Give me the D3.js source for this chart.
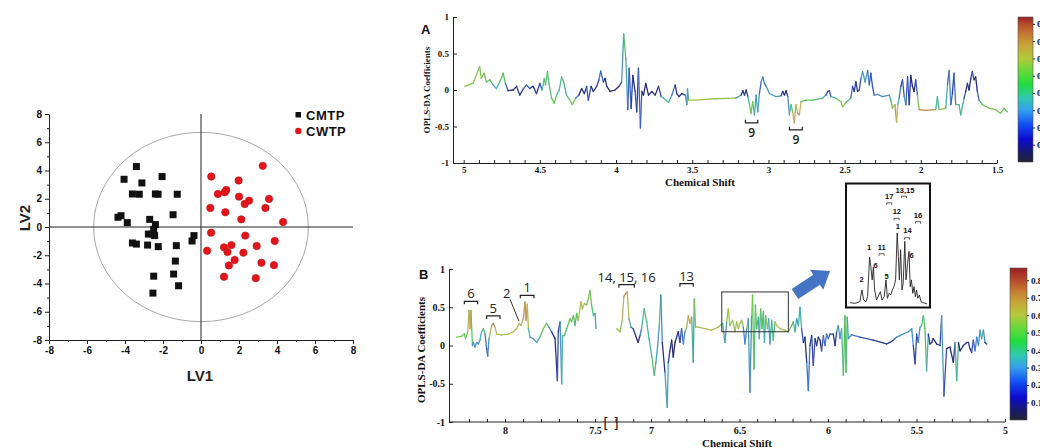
<!DOCTYPE html>
<html>
<head>
<meta charset="utf-8">
<script src="https://cdn.jsdelivr.net/npm/d3@7"></script>
<style>
  body { margin: 0; background: #fff; }
  svg { display: block; }
</style>
</head>
<body>
<div id="fig"></div>
<script>
// ---- score plot (LV1 / LV2) ----
var groups = ["CMTP", "CWTP"];
var cmtpLV1 = [-3.40,-4.05,-3.11,-2.05,-3.61,-3.25,-2.40,-2.26,-1.25,-4.37,-4.21,-3.88,-2.70,-1.47,-2.40,-2.49,-2.77,-2.53,-2.44,-0.37,-0.47,-3.61,-3.40,-2.81,-2.25,-1.30,-1.35,-1.44,-2.49,-1.18,-2.53];
var cmtpLV2 = [4.28,3.38,3.12,3.57,2.34,2.32,2.34,2.32,2.32,0.69,0.80,0.31,0.54,0.87,0.17,-0.17,-0.50,-0.50,-0.61,-0.61,-0.99,-1.13,-1.21,-1.28,-1.39,-1.32,-2.41,-3.33,-3.48,-4.16,-4.68];
var cwtpLV1 = [0.54,3.25,1.98,1.33,1.25,0.89,2.00,2.53,2.30,3.58,0.49,3.39,1.28,2.12,4.32,0.53,2.33,3.88,0.32,1.60,1.21,1.39,2.93,2.23,1.77,1.47,3.18,3.84,1.21,2.88];
var cwtpLV2 = [3.57,4.33,3.29,2.62,2.46,2.34,2.15,1.87,1.63,1.99,1.35,1.35,1.04,0.54,0.35,-0.40,-0.61,-0.99,-1.68,-1.28,-1.44,-1.77,-1.35,-1.82,-2.34,-2.72,-2.53,-2.70,-3.52,-3.62];
var scoreTicks = [-8,-6,-4,-2,0,2,4,6,8];
var ellipseRadii = [5.65, 6.7];   // confidence ellipse, LV1 / LV2 units

// ---- OPLS-DA coefficient spectra: [ppm, coefficient, |r|] ----
var specA = [
[4.993,0.05,0.55],[4.939,0.09,0.55],[4.895,0.32,0.55],[4.884,0.16,0.55],[4.866,0.23,0.55],[4.851,0.11,0.5],[4.829,0.14,0.5],[4.807,0.07,0.45],[4.785,0.02,0.3],[4.763,0.11,0.5],[4.741,0.23,0.55],[4.726,0.09,0.4],[4.708,-0.01,0.1],[4.675,0.0,0.1],[4.653,0.05,0.15],[4.632,-0.07,0.1],[4.610,0.01,0.2],[4.588,0.07,0.3],[4.566,0.02,0.2],[4.544,0.05,0.15],[4.522,-0.05,0.1],[4.500,0.09,0.2],[4.485,0.0,0.3],[4.471,0.16,0.5],[4.463,0.07,0.45],[4.450,0.25,0.5],[4.439,0.07,0.45],[4.423,-0.11,0.5],[4.406,-0.18,0.55],[4.390,-0.07,0.45],[4.373,0.0,0.4],[4.357,0.18,0.5],[4.344,0.11,0.45],[4.325,-0.07,0.4],[4.303,-0.14,0.5],[4.287,-0.20,0.6],[4.265,-0.11,0.45],[4.243,-0.07,0.1],[4.226,0.02,0.15],[4.208,-0.05,0.1],[4.193,0.05,0.15],[4.182,-0.14,0.3],[4.164,0.05,0.15],[4.149,-0.02,0.1],[4.127,0.05,0.15],[4.112,0.14,0.25],[4.101,0.26,0.3],[4.083,0.11,0.2],[4.072,0.16,0.15],[4.061,0.05,0.1],[4.039,-0.02,0.1],[4.007,0.0,0.1],[3.980,0.05,0.15],[3.963,0.11,0.2],[3.950,0.77,0.5],[3.936,0.43,0.45],[3.923,-0.27,0.3],[3.914,0.30,0.2],[3.901,-0.25,0.3],[3.890,0.20,0.1],[3.875,-0.02,0.15],[3.864,-0.30,0.3],[3.853,0.30,0.1],[3.840,-0.52,0.4],[3.831,-0.02,0.1],[3.820,-0.07,0.1],[3.805,0.09,0.1],[3.787,-0.07,0.1],[3.765,-0.02,0.1],[3.743,-0.07,0.15],[3.721,0.05,0.1],[3.704,-0.09,0.3],[3.689,-0.11,0.4],[3.656,-0.17,0.45],[3.634,-0.07,0.35],[3.612,0.07,0.2],[3.601,-0.05,0.1],[3.586,-0.09,0.15],[3.568,-0.05,0.1],[3.546,-0.07,0.2],[3.535,-0.20,0.45],[3.531,0.02,0.2],[3.524,-0.14,0.55],[3.480,-0.14,0.6],[3.349,-0.12,0.58],[3.217,-0.11,0.55],
[3.212,-0.11,0.5],[3.179,-0.07,0.2],[3.168,-0.01,0.1],[3.157,-0.07,0.15],[3.146,0.0,0.1],[3.135,-0.09,0.3],[3.124,-0.20,0.5],[3.114,-0.32,0.55],[3.103,-0.16,0.5],[3.092,-0.34,0.55],[3.081,-0.07,0.2],[3.070,-0.30,0.55],[3.059,-0.05,0.2],[3.048,0.11,0.3],[3.037,0.18,0.35],[3.026,0.09,0.2],[3.015,0.05,0.3],[2.993,-0.05,0.35],[2.950,-0.09,0.4],[2.917,-0.08,0.3],[2.906,-0.02,0.1],[2.895,-0.07,0.15],[2.884,-0.01,0.1],[2.873,-0.09,0.2],[2.862,-0.34,0.45],[2.852,-0.20,0.4],[2.841,-0.30,0.6],[2.830,-0.45,0.72],[2.819,-0.20,0.6],[2.808,-0.32,0.65],[2.797,-0.34,0.78],[2.786,-0.16,0.5],[2.753,-0.14,0.5],[2.710,-0.14,0.5],[2.644,-0.11,0.45],[2.622,-0.07,0.3],[2.611,-0.02,0.15],[2.600,-0.01,0.15],[2.590,-0.09,0.3],[2.557,-0.11,0.5],[2.524,-0.16,0.55],[2.513,-0.23,0.6],[2.491,-0.17,0.55],[2.459,-0.11,0.4],[2.448,0.05,0.15],[2.437,-0.02,0.2],[2.426,0.11,0.15],[2.415,-0.02,0.2],[2.404,0.0,0.15],[2.393,0.16,0.3],[2.382,0.25,0.4],[2.365,0.11,0.3],[2.349,0.27,0.35],[2.338,0.07,0.2],[2.328,0.23,0.3],[2.317,0.05,0.15],[2.306,-0.07,0.3],[2.284,-0.06,0.3],[2.251,-0.09,0.3],[2.207,-0.07,0.3],[2.197,-0.14,0.45],[2.186,-0.25,0.55],[2.170,-0.20,0.6],[2.159,-0.44,0.78],[2.151,-0.20,0.5],[2.142,-0.11,0.35],[2.131,0.05,0.2],[2.120,0.14,0.15],[2.109,-0.09,0.3],[2.098,-0.20,0.4],[2.087,0.18,0.1],[2.076,-0.20,0.35],[2.066,0.20,0.05],[2.055,0.05,0.1],[2.044,-0.02,0.1],[2.033,0.14,0.1],[2.022,-0.07,0.4],[2.011,-0.27,0.7],[1.967,-0.28,0.72],[1.902,-0.27,0.7],[1.891,-0.09,0.2],[1.880,-0.27,0.6],[1.836,-0.25,0.6],[1.825,0.07,0.2],[1.814,0.27,0.3],[1.803,-0.20,0.3],[1.793,-0.05,0.2],[1.782,0.23,0.15],[1.771,-0.20,0.4],[1.749,-0.20,0.45],[1.738,-0.34,0.5],[1.716,-0.11,0.3],[1.705,-0.02,0.15],[1.694,0.09,0.1],[1.683,0.0,0.15],[1.672,0.16,0.1],[1.662,0.25,0.3],[1.651,0.14,0.15],[1.640,0.18,0.1],[1.629,-0.02,0.1],[1.618,-0.14,0.4],[1.596,-0.20,0.5],[1.552,-0.25,0.55],[1.509,-0.27,0.55],[1.476,-0.32,0.55],[1.454,-0.25,0.5],[1.432,-0.30,0.5]
];
var specBLeft = [
[8.269,0.11,0.5],[8.241,0.12,0.55],[8.226,0.15,0.55],[8.219,0.09,0.45],[8.207,0.18,0.6],[8.200,0.46,0.68],[8.194,0.22,0.65],[8.189,0.46,0.68],[8.181,0.0,0.35],[8.176,0.04,0.3],[8.167,-0.02,0.35],[8.157,0.04,0.3],[8.148,0.02,0.3],[8.139,0.07,0.35],[8.130,0.18,0.45],[8.120,0.22,0.5],[8.111,0.15,0.35],[8.102,-0.04,0.2],[8.096,-0.14,0.15],[8.089,0.09,0.5],[8.081,0.18,0.6],[8.074,0.26,0.72],[8.065,0.29,0.72],[8.056,0.24,0.68],[8.046,0.15,0.6],[8.019,0.14,0.58],[7.981,0.15,0.6],[7.954,0.18,0.6],[7.935,0.22,0.62],[7.922,0.29,0.65],[7.911,0.26,0.65],[7.898,0.35,0.68],[7.889,0.57,0.7],[7.883,0.33,0.68],[7.876,0.54,0.7],[7.870,0.22,0.5],[7.861,0.11,0.35],[7.843,0.09,0.35],[7.824,0.04,0.3],[7.806,0.11,0.45],[7.787,0.22,0.55],[7.769,0.29,0.55],[7.756,0.24,0.4],[7.741,0.18,0.2],[7.722,0.09,0.05],[7.709,-0.46,0.25],[7.704,0.18,0.2],[7.694,0.31,0.15],[7.685,-0.50,0.5],[7.680,0.13,0.35],[7.670,0.13,0.45],[7.657,0.22,0.5],[7.639,0.35,0.5],[7.630,0.31,0.55],[7.620,0.39,0.5],[7.611,0.26,0.4],[7.602,0.42,0.55],[7.593,0.33,0.5],[7.578,0.57,0.7],[7.570,0.48,0.6],[7.559,0.55,0.6],[7.546,0.53,0.5],[7.537,0.61,0.55],[7.528,0.72,0.55],[7.519,0.53,0.5],[7.509,0.39,0.45],[7.500,0.42,0.4],[7.494,0.22,0.3]
];
var specBRight = [
[7.194,0.22,0.58],[7.175,0.18,0.55],[7.162,0.33,0.55],[7.153,0.64,0.72],[7.143,0.68,0.72],[7.134,0.70,0.7],[7.124,0.35,0.5],[7.113,0.24,0.35],[7.100,0.22,0.2],[7.087,0.13,0.15],[7.072,0.04,0.05],[7.062,0.13,0.2],[7.053,0.22,0.35],[7.038,0.48,0.5],[7.024,0.31,0.45],[7.011,0.09,0.4],[6.996,-0.13,0.45],[6.981,-0.39,0.5],[6.972,-0.22,0.4],[6.962,0.0,0.3],[6.953,0.26,0.4],[6.944,0.66,0.5],[6.936,0.04,0.1],[6.921,-0.35,0.15],[6.908,-0.81,0.55],[6.902,-0.22,0.2],[6.893,-0.07,0.15],[6.883,0.07,0.1],[6.874,-0.15,0.05],[6.864,0.04,0.1],[6.855,0.11,0.15],[6.846,0.18,0.2],[6.836,0.04,0.15],[6.827,0.22,0.3],[6.817,0.02,0.2],[6.808,0.18,0.4],[6.798,0.24,0.55],[6.789,0.39,0.7],[6.780,0.29,0.65],[6.770,0.37,0.65],[6.761,-0.22,0.2],[6.755,0.61,0.5],[6.748,0.24,0.55],[6.733,0.24,0.6],[6.695,0.22,0.62],[6.657,0.20,0.6],[6.620,0.24,0.58],
[6.610,0.26,0.6],[6.595,0.29,0.55],[6.582,0.04,0.2],[6.572,0.31,0.5],[6.563,0.48,0.62],[6.554,0.26,0.55],[6.539,0.33,0.6],[6.525,0.18,0.55],[6.516,0.31,0.6],[6.506,0.22,0.55],[6.497,0.29,0.62],[6.488,0.33,0.6],[6.478,0.24,0.5],[6.469,0.02,0.1],[6.459,0.22,0.5],[6.450,0.35,0.6],[6.441,-0.61,0.1],[6.431,0.39,0.55],[6.426,0.66,0.68],[6.418,-0.31,0.35],[6.410,0.53,0.6],[6.403,0.22,0.4],[6.393,0.37,0.55],[6.388,0.09,0.2],[6.380,0.48,0.65],[6.373,0.22,0.4],[6.365,0.44,0.6],[6.359,0.04,0.2],[6.352,0.39,0.6],[6.342,0.22,0.5],[6.335,0.35,0.6],[6.328,0.02,0.15],[6.318,0.33,0.6],[6.309,0.07,0.3],[6.299,0.31,0.62],[6.290,0.26,0.62],[6.271,0.22,0.62],[6.243,0.20,0.6],[6.224,0.18,0.55],[6.205,0.26,0.5],[6.196,0.31,0.45],[6.186,0.18,0.35],[6.177,0.35,0.4],[6.167,0.26,0.3],[6.158,0.50,0.5],[6.149,0.22,0.3],[6.139,0.04,0.15],[6.130,0.11,0.1],[6.120,-0.22,0.15],[6.111,-0.59,0.4],[6.102,0.0,0.15],[6.092,0.13,0.1],[6.083,-0.26,0.3],[6.073,0.09,0.15],[6.064,0.0,0.1],[6.055,0.11,0.2],[6.045,0.07,0.15],[6.036,-0.07,0.1],[6.026,0.13,0.35],[6.017,0.0,0.2],[6.008,0.15,0.35],[5.998,0.09,0.2],[5.989,0.15,0.3],[5.970,0.15,0.15],[5.960,0.0,0.1],[5.951,0.18,0.3],[5.942,0.26,0.4],[5.932,0.09,0.3],[5.923,0.22,0.4],[5.913,-0.39,0.5],[5.904,0.39,0.5],[5.898,-0.35,0.5],[5.891,0.37,0.45],[5.885,0.09,0.3],[5.866,0.14,0.3],[5.819,0.11,0.25],[5.744,0.07,0.2],[5.669,0.02,0.1],[5.650,0.04,0.15],[5.631,0.07,0.2],[5.612,0.11,0.3],[5.593,0.13,0.35],[5.574,0.15,0.3],[5.546,0.18,0.35],[5.527,0.22,0.4],[5.518,0.0,0.2],[5.508,-0.24,0.15],[5.499,0.15,0.3],[5.490,0.04,0.2],[5.480,0.24,0.4],[5.471,0.26,0.45],[5.461,0.39,0.5],[5.452,0.22,0.45],[5.443,-0.33,0.5],[5.433,0.15,0.3],[5.424,0.02,0.1],[5.414,0.04,0.1],[5.405,0.09,0.15],[5.386,0.02,0.05],[5.367,0.0,0.1],[5.358,0.39,0.35],[5.345,-0.66,0.35],[5.330,-0.04,0.1],[5.311,-0.02,0.05],[5.292,-0.22,0.2],[5.282,0.04,0.1],[5.273,-0.46,0.75],[5.263,0.04,0.1],[5.254,-0.07,0.05],[5.235,0.0,0.1],[5.216,0.04,0.1],[5.207,0.04,0.2],[5.198,-0.04,0.1],[5.188,-0.09,0.15],[5.179,0.07,0.3],[5.169,-0.07,0.2],[5.160,0.11,0.4],[5.150,0.0,0.2],[5.141,0.20,0.45],[5.132,0.09,0.3],[5.122,0.20,0.45],[5.113,0.04,0.2],[5.103,0.02,0.1]
];
// zoomed 1D spectrum in the inset: [ppm, relative intensity]
var insetSpec = [
[6.589,2],[6.565,1],[6.541,3.5],[6.530,21],[6.522,6],[6.510,3.5],[6.502,11],[6.492,70],[6.486,56],[6.479,36],[6.473,55],[6.467,21],[6.457,6],[6.446,13.5],[6.438,18.5],[6.430,6],[6.419,11],[6.410,36],[6.403,8.5],[6.394,16],[6.386,13.5],[6.378,21],[6.370,26],[6.362,36],[6.354,106],[6.348,71],[6.343,36],[6.337,81],[6.330,21],[6.324,31],[6.316,93.5],[6.310,36],[6.302,61],[6.295,78.5],[6.289,26],[6.283,36],[6.276,16],[6.270,26],[6.263,11],[6.257,21],[6.251,8.5],[6.243,13.5],[6.235,3.5],[6.224,2],[6.205,0]
];
var insetLabels = [["13,15",6.315,169],["17",6.394,161],["12",6.356,138],["16",6.25,133],["1",6.351,116],["14",6.303,110],["1",6.495,84],["11",6.432,84],["6",6.282,73],["6",6.462,57],["2",6.532,37],["5",6.407,41]];
var insetBrackets = [[6.394,151],[6.32,161],[6.357,128],[6.25,123],[6.305,99],[6.432,75]];

var shiftTicksA = [5,4.5,4,3.5,3,2.5,2,1.5];
var shiftTicksBLeft = [8,7.5];
var shiftTicksBRight = [7,6.5,6,5.5,5];
var coefTicks = [1,0.5,0,-0.5,-1];
var cbarTicks = [0.1,0.2,0.3,0.4,0.5,0.6,0.7,0.8];

// metabolite markers: label, ppm from, ppm to, coefficient of bracket line
var markA = [["9",3.151,3.070,-0.45],["9",2.862,2.778,-0.545]];
var markB = [["6",8.226,8.152,0.578],["5",8.102,8.028,0.386],["1",7.915,7.839,0.656],["14, 15, 16",7.181,7.094,0.795],["13",6.836,6.761,0.808]];

// colour map of |r| (bar) and the softer version the thin lines show
var cmapStops = [0,0.05,0.13,0.22,0.3,0.37,0.45,0.53,0.6,0.67,0.74,0.8,0.87];
var cmapColors = ["#222233","#1b1b66","#0a0ad0","#1450f5","#35a0ee","#30c8b0","#22dc40","#6ad83a","#b4c83a","#c8a83a","#c47a32","#b44a2a","#982020"];
var lineStops = [0,0.1,0.2,0.3,0.4,0.5,0.58,0.65,0.72,0.8];
var lineColors = ["#262640","#262a70","#3040a8","#4a88c8","#48b0b0","#5ac45a","#a0c450","#c8b060","#bc8448","#a84838"];
var lineCmap = d3.scaleLinear().domain(lineStops).range(lineColors).clamp(true);

var svg = d3.select("#fig").append("svg").attr("width", 1040).attr("height", 448);
var defs = svg.append("defs");

function styleAxis(g, family, size, weight) {
  g.attr("font-family", family).attr("font-size", size).attr("font-weight", weight);
  g.selectAll("line, path").attr("stroke", "#222");
  g.selectAll("text").attr("fill", "#111");
}

// ================= score plot =================
var sx = d3.scaleLinear().domain([-8, 8]).range([49, 353]);
var sy = d3.scaleLinear().domain([-8, 8]).range([340, 114]);
var sp = svg.append("g");
var oddTicks = d3.range(-7, 8, 2);

sp.append("g").attr("transform", "translate(0,340)")
  .call(d3.axisBottom(sx).tickValues(oddTicks).tickSize(2).tickFormat(""))
  .call(g => g.select(".domain").remove())
  .call(styleAxis, "Liberation Sans, Arial", 10, "bold");
sp.append("g").attr("transform", "translate(0,340)")
  .call(d3.axisBottom(sx).tickValues(scoreTicks).tickSize(4).tickSizeOuter(0).tickPadding(3).tickFormat(d => String(d)))
  .call(styleAxis, "Liberation Sans, Arial", 10, "bold");
sp.append("g").attr("transform", "translate(49,0)")
  .call(d3.axisLeft(sy).tickValues(oddTicks).tickSize(2).tickFormat(""))
  .call(g => g.select(".domain").remove())
  .call(styleAxis, "Liberation Sans, Arial", 10, "bold");
sp.append("g").attr("transform", "translate(49,0)")
  .call(d3.axisLeft(sy).tickValues(scoreTicks).tickSize(4).tickSizeOuter(0).tickPadding(3).tickFormat(d => String(d)))
  .call(styleAxis, "Liberation Sans, Arial", 10, "bold");

sp.append("ellipse")
  .attr("cx", sx(0)).attr("cy", sy(0))
  .attr("rx", sx(ellipseRadii[0]) - sx(0)).attr("ry", sy(0) - sy(ellipseRadii[1]))
  .attr("fill", "none").attr("stroke", "#a8a8a8").attr("stroke-width", 1);
sp.append("line").attr("x1", sx(-8)).attr("x2", sx(8)).attr("y1", sy(0)).attr("y2", sy(0)).attr("stroke", "#222");
sp.append("line").attr("x1", sx(0)).attr("x2", sx(0)).attr("y1", sy(8)).attr("y2", sy(-8)).attr("stroke", "#222");

var cmtp = cmtpLV1.map((v, i) => [v, cmtpLV2[i]]);
var cwtp = cwtpLV1.map((v, i) => [v, cwtpLV2[i]]);
sp.append("g").selectAll("rect").data(cmtp).join("rect")
  .attr("x", d => sx(d[0]) - 3.5).attr("y", d => sy(d[1]) - 3.5)
  .attr("width", 7).attr("height", 7).attr("fill", "#111");
sp.append("g").selectAll("circle").data(cwtp).join("circle")
  .attr("cx", d => sx(d[0])).attr("cy", d => sy(d[1])).attr("r", 3.7)
  .attr("fill", "#e3141a").attr("stroke", "#c01010").attr("stroke-width", 0.6);

// legend
var lg = sp.append("g").attr("font-family", "Liberation Sans, Arial").attr("font-weight", "bold").attr("font-size", 13);
lg.append("rect").attr("x", 295.5).attr("y", 112).attr("width", 5.5).attr("height", 5.5).attr("fill", "#111");
lg.append("circle").attr("cx", 298.3).attr("cy", 131).attr("r", 3.2).attr("fill", "#e3141a");
lg.append("text").attr("x", 306).attr("y", 119.5).attr("letter-spacing", 0.5).attr("fill", "#111").text(groups[0]);
lg.append("text").attr("x", 306).attr("y", 135.5).attr("letter-spacing", 0.5).attr("fill", "#111").text(groups[1]);

sp.append("text").attr("x", 200).attr("y", 381).attr("text-anchor", "middle")
  .attr("font-family", "Liberation Sans, Arial").attr("font-weight", "bold").attr("font-size", 15)
  .attr("fill", "#222").text("LV1");
sp.append("text").attr("transform", "translate(30,218) rotate(-90)").attr("text-anchor", "middle")
  .attr("font-family", "Liberation Sans, Arial").attr("font-weight", "bold").attr("font-size", 15)
  .attr("fill", "#222").text("LV2");

// ================= helpers for spectra =================
function drawSpec(g, data, x, y) {
  g.append("g").selectAll("line").data(d3.pairs(data)).join("line")
    .attr("x1", p => x(p[0][0])).attr("y1", p => y(p[0][1]))
    .attr("x2", p => x(p[1][0])).attr("y2", p => y(p[1][1]))
    .attr("stroke", p => lineCmap((p[0][2] + p[1][2]) / 2))
    .attr("stroke-width", 1.3).attr("stroke-linecap", "round");
}
function shiftLabel(d) {
  return Math.abs(d * 2 - Math.round(d * 2)) < 1e-6 ? String(+d.toFixed(1)) : "";
}
function minorTicks(a, b) {
  return d3.range(Math.round(b * 10), Math.round(a * 10) + 1).map(v => v / 10);
}
function colorbar(id, x0, x1, y0, y1, vmax) {
  var grad = defs.append("linearGradient").attr("id", id)
    .attr("x1", 0).attr("y1", 1).attr("x2", 0).attr("y2", 0);
  cmapStops.forEach((s, i) => {
    grad.append("stop").attr("offset", Math.min(1, s / vmax)).attr("stop-color", cmapColors[i]);
  });
  var cs = d3.scaleLinear().domain([0, vmax]).range([y1, y0]);
  svg.append("rect").attr("x", x0).attr("y", y0).attr("width", x1 - x0).attr("height", y1 - y0)
    .attr("fill", "url(#" + id + ")").attr("stroke", "#555").attr("stroke-width", 0.6);
  svg.append("g").attr("transform", "translate(" + x1 + ",0)")
    .call(d3.axisRight(cs).tickValues(cbarTicks).tickSize(2).tickPadding(2).tickFormat(d3.format(".1f")))
    .call(g => g.select(".domain").remove())
    .call(styleAxis, "Liberation Serif, Times New Roman", 9, "bold");
}
function bracket(g, xa, xb, y, up) {
  var leg = up ? -3 : 3;
  g.append("path")
    .attr("d", "M" + xa + "," + (y + leg) + "V" + y + "H" + xb + "V" + (y + leg))
    .attr("fill", "none").attr("stroke", "#222").attr("stroke-width", 1.2);
}

// ================= panel A =================
var ax = d3.scaleLinear().domain([5.07, 1.5]).range([453, 997]);
var ay = d3.scaleLinear().domain([-1, 1]).range([163, 17]);
var pa = svg.append("g");
pa.append("g").attr("transform", "translate(453,0)")
  .call(d3.axisLeft(ay).tickValues(coefTicks).tickSize(-4).tickSizeOuter(0).tickPadding(4).tickFormat(d => String(d)))
  .call(styleAxis, "Liberation Serif, Times New Roman", 9, "bold");
pa.append("g").attr("transform", "translate(0,163)")
  .call(d3.axisBottom(ax).tickValues(minorTicks(5, 1.5)).tickSize(-3).tickSizeOuter(0).tickPadding(4).tickFormat(shiftLabel))
  .call(styleAxis, "Liberation Serif, Times New Roman", 9, "bold");
drawSpec(pa, specA, ax, ay);
markA.forEach(m => {
  var y = ay(m[3]);
  bracket(pa, ax(m[1]), ax(m[2]), y, true);
  pa.append("text").attr("x", (ax(m[1]) + ax(m[2])) / 2).attr("y", y + 14)
    .attr("text-anchor", "middle").attr("font-family", "Open Sans, DejaVu Sans").attr("font-weight", 600)
    .attr("font-size", 12).attr("fill", "#222").text(m[0]);
});
pa.append("text").attr("x", 421).attr("y", 34).attr("font-family", "Liberation Sans, Arial")
  .attr("font-weight", "bold").attr("font-size", 13).attr("fill", "#111").text("A");
pa.append("text").attr("transform", "translate(430,90) rotate(-90)").attr("text-anchor", "middle")
  .attr("font-family", "Liberation Serif, Times New Roman").attr("font-weight", "bold").attr("font-size", 9)
  .attr("fill", "#111").text("OPLS-DA Coefficients");
pa.append("text").attr("x", 700).attr("y", 186).attr("text-anchor", "middle")
  .attr("font-family", "Liberation Serif, Times New Roman").attr("font-weight", "bold").attr("font-size", 11)
  .attr("fill", "#111").text("Chemical Shift");
colorbar("cbA", 1018, 1033, 17, 162, 0.84);

// ================= panel B (axis broken between 7.5 and 7.2 ppm) =================
var bxL = d3.scaleLinear().domain([8.3, 7.5]).range([451, 595]);
var bxR = d3.scaleLinear().domain([7.22, 5]).range([612, 1005]);
function bx(v) { return v > 7.35 ? bxL(v) : bxR(v); }
var by = d3.scaleLinear().domain([-1, 1]).range([422, 269]);
var pb = svg.append("g");
pb.append("g").attr("transform", "translate(449,0)")
  .call(d3.axisLeft(by).tickValues(coefTicks).tickSize(-4).tickSizeOuter(0).tickPadding(4).tickFormat(d => String(d)))
  .call(styleAxis, "Liberation Serif, Times New Roman", 10, "bold");
pb.append("line").attr("x1", 449).attr("x2", 1005).attr("y1", 422).attr("y2", 422).attr("stroke", "#222");
pb.append("g").attr("transform", "translate(0,422)")
  .call(d3.axisBottom(bxL).tickValues(minorTicks(8.2, 7.5)).tickSize(-3).tickPadding(5).tickFormat(shiftLabel))
  .call(g => g.select(".domain").remove())
  .call(styleAxis, "Liberation Serif, Times New Roman", 10, "bold");
pb.append("g").attr("transform", "translate(0,422)")
  .call(d3.axisBottom(bxR).tickValues(minorTicks(7.2, 5)).tickSize(-3).tickPadding(5).tickFormat(shiftLabel))
  .call(g => g.select(".domain").remove())
  .call(styleAxis, "Liberation Serif, Times New Roman", 10, "bold");
pb.append("text").attr("x", 611).attr("y", 428).attr("text-anchor", "middle")
  .attr("font-family", "DejaVu Sans").attr("font-size", 14).attr("fill", "#222").text("[ ]");

drawSpec(pb, specBLeft, bxL, by);
drawSpec(pb, specBRight, bxR, by);

markB.forEach(m => {
  var y = by(m[3]);
  bracket(pb, bx(m[1]), bx(m[2]), y, false);
  pb.append("text").attr("x", (bx(m[1]) + bx(m[2])) / 2).attr("y", y - 3)
    .attr("text-anchor", "middle").attr("font-family", "Open Sans, DejaVu Sans")
    .attr("font-size", 13).attr("fill", "#222").text(m[0]);
});
// label "2" with leader line
pb.append("line").attr("x1", bx(7.972)).attr("y1", by(0.604)).attr("x2", bx(7.922)).attr("y2", by(0.316))
  .attr("stroke", "#333").attr("stroke-width", 1);
pb.append("text").attr("x", bx(7.99)).attr("y", by(0.62)).attr("text-anchor", "middle")
  .attr("font-family", "Open Sans, DejaVu Sans").attr("font-size", 13).attr("fill", "#222").text("2");

// zoom box
pb.append("rect").attr("x", bx(6.6)).attr("y", by(0.70))
  .attr("width", bx(6.224) - bx(6.6)).attr("height", by(0.18) - by(0.70))
  .attr("fill", "none").attr("stroke", "#333").attr("stroke-width", 1);

// block arrow towards the inset
(function () {
  var t = [795, 294], h = [830, 271];
  var dx = h[0] - t[0], dy = h[1] - t[1], L = Math.hypot(dx, dy);
  var u = [dx / L, dy / L], n = [-u[1], u[0]];
  var sw = 6, hw = 12, hl = 16;
  var b = [h[0] - u[0] * hl, h[1] - u[1] * hl];
  var pts = [
    [t[0] + n[0] * sw, t[1] + n[1] * sw], [b[0] + n[0] * sw, b[1] + n[1] * sw],
    [b[0] + n[0] * hw, b[1] + n[1] * hw], h,
    [b[0] - n[0] * hw, b[1] - n[1] * hw], [b[0] - n[0] * sw, b[1] - n[1] * sw],
    [t[0] - n[0] * sw, t[1] - n[1] * sw]
  ];
  pb.append("polygon").attr("points", pts.map(p => p.join(",")).join(" ")).attr("fill", "#4674c4");
})();

pb.append("text").attr("x", 419).attr("y", 279).attr("font-family", "Liberation Sans, Arial")
  .attr("font-weight", "bold").attr("font-size", 13).attr("fill", "#111").text("B");
pb.append("text").attr("transform", "translate(425,350) rotate(-90)").attr("text-anchor", "middle")
  .attr("font-family", "Liberation Serif, Times New Roman").attr("font-weight", "bold").attr("font-size", 11)
  .attr("fill", "#111").text("OPLS-DA Coefficients");
pb.append("text").attr("x", 737).attr("y", 447).attr("text-anchor", "middle")
  .attr("font-family", "Liberation Serif, Times New Roman").attr("font-weight", "bold").attr("font-size", 11)
  .attr("fill", "#111").text("Chemical Shift");
colorbar("cbB", 1010, 1027, 268, 420, 0.87);

// ================= inset =================
var ix = d3.scaleLinear().domain([6.60, 6.20]).range([848, 928]);
var iy = d3.scaleLinear().domain([0, 106]).range([304, 233]);
var ins = svg.append("g");
ins.append("rect").attr("x", 846).attr("y", 183.5).attr("width", 84).attr("height", 124)
  .attr("fill", "#fff").attr("stroke", "#111").attr("stroke-width", 2);
ins.append("path").datum(insetSpec)
  .attr("d", d3.line().x(d => ix(d[0])).y(d => iy(d[1])))
  .attr("fill", "none").attr("stroke", "#222").attr("stroke-width", 0.9);
ins.selectAll("text.il").data(insetLabels).join("text").attr("class", "il")
  .attr("x", d => ix(d[1])).attr("y", d => iy(d[2])).attr("dy", "0.35em").attr("text-anchor", "middle")
  .attr("font-family", "Liberation Sans, Arial").attr("font-weight", "bold").attr("font-size", 7.5)
  .attr("fill", "#111").text(d => d[0]);
insetBrackets.forEach(b => {
  var x = ix(b[0]), y = iy(b[1]);
  ins.append("path").attr("d", "M" + (x - 2.5) + "," + (y + 2) + "V" + y + "H" + (x + 2.5) + "V" + (y + 2))
    .attr("fill", "none").attr("stroke", "#333").attr("stroke-width", 0.8);
});
</script>
</body>
</html>
